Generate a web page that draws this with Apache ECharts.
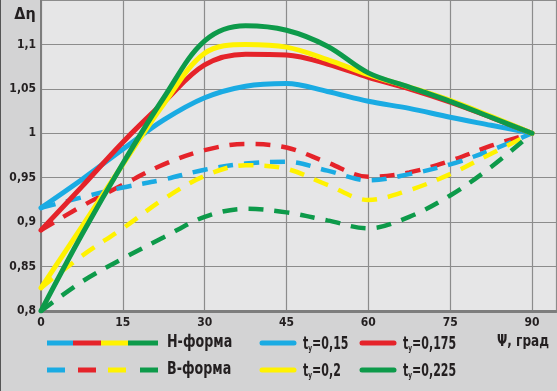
<!DOCTYPE html>
<html><head><meta charset="utf-8">
<script src="https://cdn.jsdelivr.net/npm/echarts@6/dist/echarts.min.js"></script>
<style>html,body{margin:0;padding:0;background:#d3d3d4}#c{width:557px;height:391px}</style>
</head><body><div id="c"></div>
<script>
const psi = [0, 7.5, 15, 22.5, 30, 37.5, 45, 52.5, 60, 67.5, 75, 82.5, 90];
// H-форма (solid)
const hT015  = [0.916, 0.948, 0.982, 1.015, 1.040, 1.053, 1.056, 1.047, 1.036, 1.028, 1.018, 1.009, 1.0];
const hT0175 = [0.891, 0.940, 0.990, 1.035, 1.077, 1.089, 1.088, 1.078, 1.063, 1.050, 1.035, 1.018, 1.0];
const hT02   = [0.826, 0.895, 0.965, 1.033, 1.090, 1.100, 1.097, 1.083, 1.066, 1.052, 1.037, 1.019, 1.0];
const hT0225 = [0.800, 0.886, 0.966, 1.040, 1.104, 1.121, 1.116, 1.098, 1.068, 1.052, 1.036, 1.018, 1.0];
// B-форма (dashed)
const bT015  = [0.916, 0.928, 0.939, 0.948, 0.959, 0.966, 0.968, 0.958, 0.947, 0.954, 0.965, 0.981, 1.0];
const bT0175 = [0.891, 0.918, 0.942, 0.965, 0.981, 0.988, 0.984, 0.967, 0.951, 0.956, 0.969, 0.986, 1.0];
const bT02   = [0.826, 0.862, 0.893, 0.926, 0.952, 0.964, 0.960, 0.942, 0.925, 0.936, 0.954, 0.977, 1.0];
const bT0225 = [0.800, 0.833, 0.859, 0.883, 0.906, 0.915, 0.911, 0.902, 0.893, 0.906, 0.930, 0.962, 1.0];
const seriesNames = ['t=0,15', 't=0,175', 't=0,2', 't=0,225'];
const legendValues = ['0,15', '0,175', '0,2', '0,225'];
const colors = ['#1aabe3', '#e5232a', '#fff200', '#0d9a4a'];
const xTicks = [0, 15, 30, 45, 60, 75, 90];

const FONT = '"DejaVu Sans Condensed", sans-serif';
const pairs = a => psi.map((x, i) => [x, a[i]]);
const fmt = v => String(+(+v).toFixed(2)).replace('.', ',');

const dashedSets = [bT0175, bT015, bT02, bT0225];
const dashedCols = [colors[1], colors[0], colors[2], colors[3]];
const solidSets = [hT015, hT0175, hT02, hT0225];

const series = [];
dashedSets.forEach((d, i) => series.push({
  type: 'line', name: 'B' + i, data: pairs(d), smooth: 0.35, symbol: 'none', z: 2,
  lineStyle: { color: dashedCols[i], width: 4.5, type: [15, 11], cap: 'butt' }
}));
solidSets.forEach((d, i) => series.push({
  type: 'line', name: seriesNames[i], data: pairs(d), smooth: 0.35, symbol: 'none', z: 3,
  lineStyle: { color: colors[i], width: 5, cap: 'round' }
}));

const textStyle = { fontFamily: FONT, fontWeight: 'bold', fontSize: 17, fill: '#231f20' };
const graphic = [];
graphic.push({ type: 'line', shape: { x1: 0.5, y1: 0, x2: 0.5, y2: 391 }, style: { stroke: '#555', lineWidth: 1 } });
[[47, 73], [73, 101], [101, 128], [128, 158]].forEach((s, i) => graphic.push({
  type: 'line', shape: { x1: s[0], y1: 343, x2: s[1], y2: 343 }, style: { stroke: colors[i], lineWidth: 5 }
}));
graphic.push({ type: 'text', x: 167, y: 343, scaleX: 0.83, style: Object.assign({ text: 'Н-форма', verticalAlign: 'middle' }, textStyle) });
[[47, 65], [78, 96], [108, 126], [140, 158]].forEach((s, i) => graphic.push({
  type: 'line', shape: { x1: s[0], y1: 370, x2: s[1], y2: 370 }, style: { stroke: colors[i], lineWidth: 5 }
}));
graphic.push({ type: 'text', x: 167, y: 370, scaleX: 0.83, style: Object.assign({ text: 'В-форма', verticalAlign: 'middle' }, textStyle) });
const tPos = [[262, 343], [362, 343], [262, 370], [362, 370]];
tPos.forEach((p, i) => {
  graphic.push({ type: 'line', shape: { x1: p[0], y1: p[1], x2: p[0] + 32, y2: p[1] }, style: { stroke: colors[i], lineWidth: 5, lineCap: 'round' } });
  graphic.push({ type: 'text', x: p[0] + 41, y: p[1], scaleX: 0.72, style: {
    text: '{a|t}{b|y}{a|=' + legendValues[i] + '}', verticalAlign: 'middle', fill: '#231f20',
    rich: {
      a: { fontFamily: FONT, fontWeight: 'bold', fontSize: 17, lineHeight: 20, verticalAlign: 'bottom' },
      b: { fontFamily: FONT, fontWeight: 'bold', fontSize: 9, lineHeight: 10, verticalAlign: 'bottom' }
    }
  } });
});
graphic.push({ type: 'text', x: 497, y: 342, scaleX: 0.84, style: Object.assign({ text: 'Ψ, град', verticalAlign: 'middle' }, textStyle, { fontSize: 16 }) });
graphic.push({ type: 'text', x: 25, y: 15, style: Object.assign({ text: 'Δη', align: 'center', verticalAlign: 'middle' }, textStyle, { fontSize: 16 }) });

const chart = echarts.init(document.getElementById('c'), null, { renderer: 'canvas' });
chart.setOption({
  backgroundColor: '#d3d3d4',
  animation: false,
  grid: { left: 41, right: 1, top: 0, bottom: 80, show: true, backgroundColor: '#e6e6e7', borderWidth: 0 },
  xAxis: {
    type: 'value', min: 0, max: 94.4, interval: 15,
    axisLine: { show: true, onZero: false, lineStyle: { color: '#7d7d7d', width: 3 } },
    axisTick: { show: false },
    splitLine: { show: true, lineStyle: { color: '#8c8c8c', width: 1.2 } },
    axisLabel: { showMaxLabel: false, margin: 6, color: '#231f20', fontFamily: FONT, fontWeight: 'bold', fontSize: 12,
      formatter: v => xTicks.indexOf(v) >= 0 ? String(v) : '' }
  },
  yAxis: {
    type: 'value', min: 0.8, max: 1.15, interval: 0.05,
    axisLine: { show: true, lineStyle: { color: '#7d7d7d', width: 2 } },
    axisTick: { show: false },
    splitLine: { show: true, lineStyle: { color: '#8c8c8c', width: 1.2 } },
    axisLabel: { showMaxLabel: false, margin: 5, color: '#231f20', fontFamily: FONT, fontWeight: 'bold', fontSize: 12,
      formatter: v => fmt(v) }
  },
  series: series,
  graphic: graphic
});
</script></body></html>
